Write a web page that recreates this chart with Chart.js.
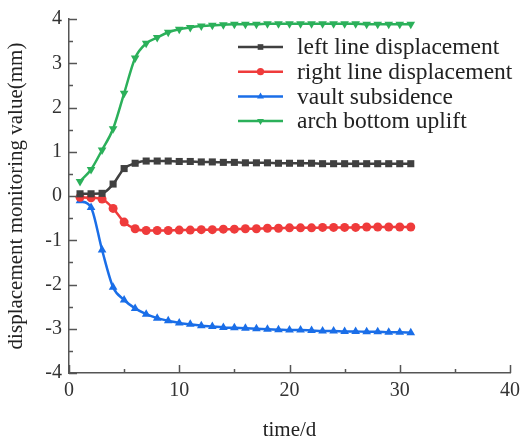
<!DOCTYPE html>
<html>
<head>
<meta charset="utf-8">
<script src="https://cdn.jsdelivr.net/npm/chart.js@4.4.1/dist/chart.umd.min.js"></script>
<style>
  body { margin: 0; background: #fff; }
  canvas { display: block; }
</style>
</head>
<body>
<canvas id="dispChart" width="530" height="447"></canvas>
<script>
// monitoring days
const days = [1, 2, 3, 4, 5, 6, 7, 8, 9, 10, 11, 12, 13, 14, 15, 16, 17, 18, 19, 20, 21, 22, 23, 24, 25, 26, 27, 28, 29, 30, 31];

// displacement readings (mm)
const leftLine = [0.05, 0.05, 0.06, 0.27, 0.62, 0.74, 0.79, 0.79, 0.79, 0.78, 0.78, 0.77, 0.77, 0.76, 0.76, 0.75,
  0.75, 0.75, 0.74, 0.74, 0.74, 0.74, 0.73, 0.73, 0.73, 0.73, 0.73, 0.73, 0.73, 0.73, 0.73];
const rightLine = [-0.03, -0.04, -0.07, -0.28, -0.59, -0.74, -0.78, -0.78, -0.78, -0.77, -0.77, -0.76, -0.76, -0.75, -0.75, -0.74,
  -0.74, -0.73, -0.73, -0.72, -0.72, -0.72, -0.71, -0.71, -0.71, -0.71, -0.70, -0.70, -0.70, -0.70, -0.70];
const vaultSub = [-0.11, -0.26, -1.22, -2.06, -2.35, -2.54, -2.67, -2.76, -2.82, -2.87, -2.90, -2.93, -2.95, -2.97, -2.98, -2.99,
  -3.00, -3.01, -3.02, -3.03, -3.03, -3.04, -3.05, -3.05, -3.06, -3.06, -3.07, -3.07, -3.08, -3.08, -3.09];
const archUplift = [0.33, 0.60, 1.04, 1.52, 2.32, 3.12, 3.45, 3.58, 3.70, 3.77, 3.81, 3.84, 3.86, 3.87, 3.88, 3.88,
  3.88, 3.89, 3.89, 3.89, 3.89, 3.89, 3.89, 3.89, 3.89, 3.89, 3.88, 3.88, 3.88, 3.88, 3.88];

const seriesNames = ['left line displacement', 'right line displacement', 'vault subsidence', 'arch bottom uplift'];

const xTicks = [0, 10, 20, 30, 40];
const yTicks = [-4, -3, -2, -1, 0, 1, 2, 3, 4];

const FONT = "'Liberation Serif', 'Times New Roman', serif";
const AXIS = '#555';

function toPoints(vals) {
  return vals.map((v, i) => ({ x: days[i], y: v }));
}

function series(label, vals, color, style, radius, rotation) {
  return {
    label: label,
    data: toPoints(vals),
    borderColor: color,
    backgroundColor: color,
    borderWidth: 2.5,
    pointStyle: style,
    pointRadius: radius,
    pointRotation: rotation || 0,
    pointBorderWidth: 0,
    cubicInterpolationMode: 'monotone'
  };
}

// inward tick marks on left and bottom axes
const inwardTicks = {
  id: 'inwardTicks',
  afterDraw(chart) {
    const ctx = chart.ctx;
    const xs = chart.scales.x, ys = chart.scales.y;
    const area = chart.chartArea;
    ctx.save();
    ctx.strokeStyle = AXIS;
    ctx.lineWidth = 1.5;
    ctx.beginPath();
    for (let v = -4; v <= 4; v += 0.5) {
      const y = Math.round(ys.getPixelForValue(v)) + 0.5;
      const len = Number.isInteger(v) ? 8 : 4;
      ctx.moveTo(area.left, y);
      ctx.lineTo(area.left + len, y);
    }
    for (let v = 0; v <= 40; v += 5) {
      const x = Math.round(xs.getPixelForValue(v)) + 0.5;
      const len = v % 10 === 0 ? 8 : 4;
      ctx.moveTo(x, area.bottom);
      ctx.lineTo(x, area.bottom - len);
    }
    ctx.stroke();
    ctx.restore();
  }
};

// legend drawn inside the plot, line with marker then label
const innerLegend = {
  id: 'innerLegend',
  afterDatasetsDraw(chart) {
    const ctx = chart.ctx;
    const x0 = 238, x1 = 283, textX = 297, top = 47, gap = 24.7;
    ctx.save();
    chart.data.datasets.forEach((ds, i) => {
      const y = top + i * gap;
      ctx.strokeStyle = ds.borderColor;
      ctx.lineWidth = 2.5;
      ctx.beginPath();
      ctx.moveTo(x0, y);
      ctx.lineTo(x1, y);
      ctx.stroke();
      ctx.fillStyle = ds.backgroundColor;
      Chart.helpers.drawPoint(ctx, {
        pointStyle: ds.pointStyle,
        radius: ds.pointRadius * 0.8,
        rotation: ds.pointRotation,
        borderWidth: 0
      }, (x0 + x1) / 2, y);
      ctx.fillStyle = '#222';
      ctx.font = '23.5px ' + FONT;
      ctx.textBaseline = 'middle';
      ctx.textAlign = 'left';
      ctx.fillText(ds.label, textX, y + 1);
    });
    ctx.restore();
  }
};

new Chart(document.getElementById('dispChart'), {
  type: 'line',
  data: {
    datasets: [
      series(seriesNames[0], leftLine, '#404040', 'rect', 5),
      series(seriesNames[1], rightLine, '#ef3b3b', 'circle', 4.5),
      series(seriesNames[2], vaultSub, '#1a6ee8', 'triangle', 5),
      series(seriesNames[3], archUplift, '#2bb05a', 'triangle', 5, 180)
    ]
  },
  options: {
    responsive: false,
    animation: false,
    layout: { padding: { top: 10, right: 20, left: 0, bottom: 0 } },
    plugins: {
      legend: { display: false },
      tooltip: { enabled: false }
    },
    scales: {
      x: {
        type: 'linear',
        min: 0,
        max: 40,
        afterBuildTicks: s => { s.ticks = xTicks.map(v => ({ value: v })); },
        afterFit: s => { s.height = 74; },
        grid: { display: false, drawTicks: false },
        border: { display: true, color: AXIS, width: 1.5 },
        ticks: { font: { family: FONT, size: 20 }, color: '#333', padding: 6, maxRotation: 0 },
        title: { display: true, text: 'time/d', font: { family: FONT, size: 21 }, color: '#222', padding: 4 }
      },
      y: {
        min: -4,
        max: 4,
        afterBuildTicks: s => { s.ticks = yTicks.map(v => ({ value: v })); },
        afterFit: s => { s.width = 69; },
        grid: { display: false, drawTicks: false },
        border: { display: true, color: AXIS, width: 1.5 },
        ticks: { font: { family: FONT, size: 20 }, color: '#333', padding: 7 },
        title: { display: true, text: 'displacement monitoring value(mm)', font: { family: FONT, size: 21 }, color: '#222', padding: 4 }
      }
    }
  },
  plugins: [inwardTicks, innerLegend]
});
</script>
</body>
</html>
